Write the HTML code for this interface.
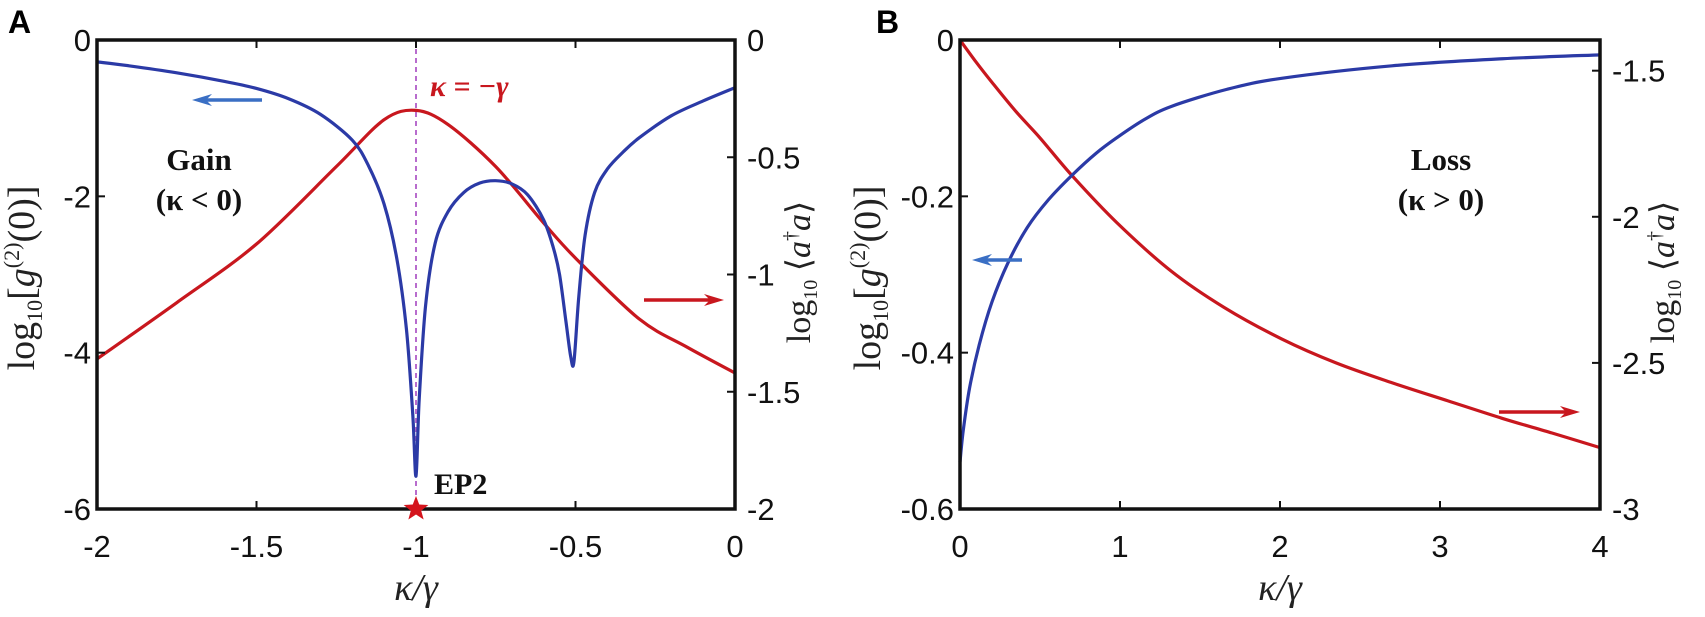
<!DOCTYPE html>
<html><head><meta charset="utf-8"><style>
html,body{margin:0;padding:0;background:#fff;}
svg{display:block;font-family:"Liberation Sans",sans-serif;}
.tk{font-size:31px;fill:#111;}
.ser{font-family:"Liberation Serif",serif;}
</style></head><body>
<svg id="fig" width="1705" height="617" viewBox="0 0 1705 617">
<text x="8" y="33" font-size="32" font-weight="bold">A</text>
<text x="876" y="33" font-size="32" font-weight="bold">B</text>
<g id="gA"></g>
<g id="gB"></g>
</svg>
<script>
// Panel A data
const aXTicks=[-2,-1.5,-1,-0.5,0];
const aYLTicks=[0,-2,-4,-6];
const aYRTicks=[0,-0.5,-1,-1.5,-2];
const aBlueX=[-2,-1.9,-1.75,-1.6,-1.5,-1.4,-1.3,-1.2,-1.15,-1.1,-1.06,-1.03,-1.01,-1.0,-0.99,-0.97,-0.94,-0.9,-0.85,-0.8,-0.75,-0.7,-0.65,-0.6,-0.57,-0.55,-0.53,-0.515,-0.505,-0.49,-0.47,-0.44,-0.4,-0.35,-0.3,-0.2,-0.1,0];
const aBlueY=[-0.28,-0.33,-0.42,-0.53,-0.62,-0.75,-0.95,-1.28,-1.6,-2.1,-2.8,-3.7,-4.8,-5.58,-4.6,-3.4,-2.6,-2.2,-1.95,-1.83,-1.8,-1.84,-1.98,-2.3,-2.65,-3.0,-3.6,-4.05,-4.12,-3.3,-2.5,-1.95,-1.65,-1.43,-1.25,-0.97,-0.78,-0.61];
const aRedX=[-2,-1.75,-1.5,-1.25,-1.1,-1,-0.9,-0.75,-0.6,-0.5,-0.3,-0.15,0];
const aRedY=[-1.36,-1.12,-0.87,-0.54,-0.34,-0.30,-0.36,-0.54,-0.78,-0.93,-1.19,-1.31,-1.42];
// Panel B data
const bXTicks=[0,1,2,3,4];
const bYLTicks=[0,-0.2,-0.4,-0.6];
const bYRTicks=[-1.5,-2,-2.5,-3];
const bBlueX=[0,0.02,0.06,0.12,0.2,0.3,0.42,0.55,0.7,0.85,0.98,1.15,1.32,1.67,2.01,2.7,3.39,4];
const bBlueY=[-0.54,-0.50,-0.445,-0.39,-0.335,-0.285,-0.24,-0.205,-0.173,-0.145,-0.125,-0.102,-0.085,-0.063,-0.049,-0.033,-0.024,-0.019];
const bRedX=[0,0.1,0.2,0.35,0.5,0.7,0.98,1.32,1.65,2.01,2.35,2.7,3.05,3.39,3.7,4];
const bRedY=[-1.395,-1.47,-1.54,-1.64,-1.73,-1.859,-2.02,-2.186,-2.31,-2.418,-2.5,-2.568,-2.63,-2.69,-2.74,-2.79];

const NS="http://www.w3.org/2000/svg";
function el(g,tag,at,txt){const e=document.createElementNS(NS,tag);for(const k in at)e.setAttribute(k,at[k]);if(txt!==undefined)e.textContent=txt;g.appendChild(e);return e;}
function smooth(pts){let d="M"+pts[0][0].toFixed(2)+","+pts[0][1].toFixed(2);
 for(let i=0;i<pts.length-1;i++){const p0=pts[Math.max(0,i-1)],p1=pts[i],p2=pts[i+1],p3=pts[Math.min(pts.length-1,i+2)];
 const t=0.16;const c1=[p1[0]+(p2[0]-p0[0])*t,p1[1]+(p2[1]-p0[1])*t];const c2=[p2[0]-(p3[0]-p1[0])*t,p2[1]-(p3[1]-p1[1])*t];
 d+=" C"+c1.map(v=>v.toFixed(2)).join(",")+" "+c2.map(v=>v.toFixed(2)).join(",")+" "+p2[0].toFixed(2)+","+p2[1].toFixed(2);}
 return d;}
const TOP=40,BOT=509;
const BLUE="#2b3aa6",RED="#c8171e";

function frame(g,L,R,xs,xt,yl,ylt,yr,yrt,fmtX,fmtL,fmtR){
 xt.forEach(v=>{const x=xs(v);
  const t=el(g,'line',{x1:x,x2:x,y1:BOT,y2:BOT-8,stroke:'#111','stroke-width':2});
  
  const t2=el(g,'line',{x1:x,x2:x,y1:TOP,y2:TOP+8,stroke:'#111','stroke-width':2});
  
  const l=el(g,'text',{x:x,y:BOT+48,'text-anchor':'middle',class:'tk'},fmtX(v));
  });
 ylt.forEach(v=>{const y=yl(v);
  const t=el(g,'line',{x1:L,x2:L+8,y1:y,y2:y,stroke:'#111','stroke-width':2});
  
  const l=el(g,'text',{x:L-6,y:y+11,'text-anchor':'end',class:'tk'},fmtL(v));
  });
 yrt.forEach(v=>{const y=yr(v);
  const t=el(g,'line',{x1:R,x2:R-8,y1:y,y2:y,stroke:'#111','stroke-width':2});
  
  const l=el(g,'text',{x:R+12,y:y+11,'text-anchor':'start',class:'tk'},fmtR(v));
  });
 const b=el(g,'rect',{x:L,y:TOP,width:R-L,height:BOT-TOP,fill:'none',stroke:'#111','stroke-width':3.5});
 
}
function series(g,xs,ys,X,Y,color,name){
 const pts=X.map((v,i)=>[xs(v),ys(Y[i])]);
 const p=el(g,'path',{d:smooth(pts),fill:'none',stroke:color,'stroke-width':3.2,'stroke-linejoin':'round'});
 
}
function arrow(g,x1,x2,y,color,name){
 const dir=Math.sign(x2-x1);
 const a=el(g,'g',{});
 
 el(a,'line',{x1:x1,x2:x2-dir*14,y1:y,y2:y,stroke:color,'stroke-width':3.5});
 el(a,'path',{d:`M${x2},${y} L${x2-dir*20},${y-6} L${x2-dir*14},${y} L${x2-dir*20},${y+6} Z`,fill:color});
}
function fmtA(v){return String(v);}
function ylab(g,x,y,name,isG){
 const t=el(g,'text',{transform:`translate(${x},${y}) rotate(-90)`,'text-anchor':'middle','font-size':isG?38:34,fill:'#222',class:'ser'});
 
 if(isG){
  el(t,'tspan',{},'log');el(t,'tspan',{'font-size':22,dy:8},'10');
  el(t,'tspan',{dy:-8},'[');el(t,'tspan',{'font-style':'italic'},'g');
  el(t,'tspan',{'font-size':22,dy:-15},'(2)');el(t,'tspan',{dy:15},'(0)]');
 }else{
  el(t,'tspan',{},'log');el(t,'tspan',{'font-size':20,dy:7},'10');
  el(t,'tspan',{dy:-7},' ⟨');el(t,'tspan',{'font-style':'italic'},'a');
  el(t,'tspan',{'font-size':20,dy:-13},'†');el(t,'tspan',{dy:13,'font-style':'italic'},'a');el(t,'tspan',{},'⟩');
 }
}
function starPath(cx,cy,R,r){let d='';for(let i=0;i<10;i++){const a=-Math.PI/2+i*Math.PI/5;const rr=i%2?r:R;d+=(i?'L':'M')+(cx+rr*Math.cos(a)).toFixed(2)+','+(cy+rr*Math.sin(a)).toFixed(2);}return d+'Z';}

// Panel A
(function(){
 const g=document.getElementById('gA');const L=97,R=735;
 const xs=v=>L+(v+2)/2*(R-L);
 const yl=v=>TOP+(0-v)/6*(BOT-TOP);
 const yr=v=>TOP+(0-v)/2*(BOT-TOP);
 const dl=el(g,'line',{x1:xs(-1),x2:xs(-1),y1:TOP,y2:BOT,stroke:'#b05cc8','stroke-width':1.8,'stroke-dasharray':'5,4'});
 
 series(g,xs,yr,aRedX,aRedY,RED,'mean-photon-number-curve');
 series(g,xs,yl,aBlueX,aBlueY,BLUE,'g2-curve');
 frame(g,L,R,xs,aXTicks,yl,aYLTicks,yr,aYRTicks,fmtA,fmtA,fmtA);
 arrow(g,262,192,100,'#3a6fc4','left-axis-arrow');
 arrow(g,644,724,300,RED,'right-axis-arrow');
 const st=el(g,'path',{d:starPath(xs(-1),BOT,13,5.5),fill:'#d4141c'});
 
 const t1=el(g,'text',{x:xs(-1)+14,y:96,'font-size':30,'font-weight':'bold','font-style':'italic',fill:RED,class:'ser'},'κ = −γ');
 
 const t2=el(g,'text',{x:434,y:494,'font-size':30,'font-weight':'bold',fill:'#111',class:'ser'},'EP2');
 
 const t3=el(g,'text',{x:199,y:170,'font-size':31,'font-weight':'bold','text-anchor':'middle',fill:'#111',class:'ser'},'Gain');
 
 const t4=el(g,'text',{x:199,y:210,'font-size':31,'font-weight':'bold','text-anchor':'middle',fill:'#111',class:'ser'},'(κ < 0)');
 
 const xl=el(g,'text',{x:(L+R)/2,y:600,'font-size':38,'font-style':'italic','text-anchor':'middle',fill:'#222',class:'ser'},'κ/γ');
 
 ylab(g,34,278,'left-y-axis-title',true);
 ylab(g,810,272,'right-y-axis-title',false);
})();
// Panel B
(function(){
 const g=document.getElementById('gB');const L=960,R=1600;
 const xs=v=>L+v/4*(R-L);
 const yl=v=>TOP+(0-v)/0.6*(BOT-TOP);
 const yr=v=>TOP+(-1.395-v)/1.605*(BOT-TOP);
 series(g,xs,yr,bRedX,bRedY,RED,'mean-photon-number-curve');
 series(g,xs,yl,bBlueX,bBlueY,BLUE,'g2-curve');
 frame(g,L,R,xs,bXTicks,yl,bYLTicks,yr,bYRTicks,String,fmtA,fmtA);
 arrow(g,1022,972,260,'#3a6fc4','left-axis-arrow');
 arrow(g,1499,1580,412,RED,'right-axis-arrow');
 const t3=el(g,'text',{x:1441,y:170,'font-size':31,'font-weight':'bold','text-anchor':'middle',fill:'#111',class:'ser'},'Loss');
 
 const t4=el(g,'text',{x:1441,y:210,'font-size':31,'font-weight':'bold','text-anchor':'middle',fill:'#111',class:'ser'},'(κ > 0)');
 
 const xl=el(g,'text',{x:(L+R)/2,y:600,'font-size':38,'font-style':'italic','text-anchor':'middle',fill:'#222',class:'ser'},'κ/γ');
 
 ylab(g,880,278,'left-y-axis-title',true);
 ylab(g,1674,272,'right-y-axis-title',false);
})();
</script>
</body></html>
